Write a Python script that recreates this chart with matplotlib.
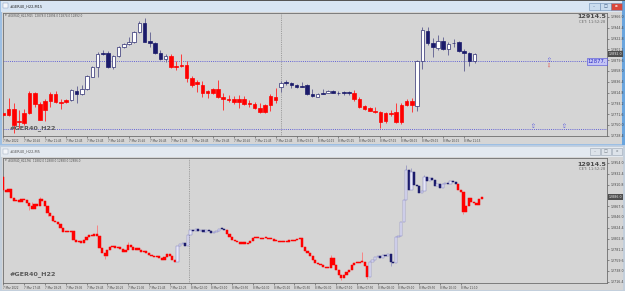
import numpy as np
import matplotlib.pyplot as plt
from matplotlib.patches import Rectangle

# ---------------- top window: #GER40_H22,M15 ----------------
top_open = [12774, 12770, 12782, 12756, 12754, 12774, 12814, 12792, 12780, 12798,
            12812, 12796, 12796, 12800, 12818, 12812, 12822, 12846, 12866, 12894,
            12894, 12866, 12888, 12906, 12912, 12916, 12936, 12954, 12918, 12914,
            12894, 12882, 12888, 12868, 12868, 12870, 12844, 12832, 12830, 12814,
            12822, 12822, 12806, 12802, 12796, 12802, 12802, 12792, 12792, 12784,
            12776, 12790, 12806, 12826, 12836, 12834, 12830, 12828, 12830, 12812,
            12807, 12814, 12815, 12819, 12815, 12816, 12816, 12814, 12802, 12788,
            12785, 12778, 12776, 12758, 12774, 12776, 12756, 12790, 12798, 12788,
            12878, 12938, 12914, 12904, 12918, 12902, 12914, 12916, 12898, 12894,
            12878]
top_high = [12776, 12804, 12794, 12780, 12782, 12818, 12816, 12796, 12802, 12816,
            12818, 12802, 12802, 12822, 12828, 12830, 12850, 12868, 12896, 12900,
            12898, 12890, 12908, 12914, 12926, 12938, 12958, 12964, 12936, 12916,
            12900, 12892, 12892, 12878, 12892, 12878, 12848, 12840, 12838, 12820,
            12824, 12840, 12814, 12810, 12808, 12810, 12808, 12800, 12796, 12794,
            12792, 12812, 12824, 12838, 12840, 12836, 12832, 12836, 12832, 12822,
            12814, 12822, 12820, 12820, 12818, 12818, 12818, 12820, 12806, 12790,
            12786, 12786, 12778, 12776, 12780, 12794, 12794, 12802, 12804, 12880,
            12946, 12946, 12924, 12930, 12926, 12916, 12922, 12918, 12902, 12896,
            12894]
top_low = [12768, 12768, 12734, 12744, 12750, 12772, 12786, 12760, 12758, 12786,
           12794, 12782, 12794, 12798, 12794, 12810, 12820, 12846, 12846, 12890,
           12864, 12862, 12886, 12904, 12910, 12914, 12934, 12916, 12906, 12892,
           12880, 12876, 12864, 12860, 12866, 12836, 12826, 12816, 12806, 12804,
           12812, 12804, 12780, 12796, 12792, 12784, 12790, 12786, 12782, 12774,
           12774, 12778, 12794, 12816, 12830, 12824, 12824, 12826, 12810, 12806,
           12806, 12812, 12814, 12814, 12810, 12810, 12810, 12798, 12784, 12780,
           12778, 12774, 12744, 12754, 12768, 12754, 12752, 12788, 12776, 12778,
           12862, 12910, 12886, 12900, 12900, 12890, 12906, 12896, 12858, 12868,
           12874]
top_close = [12770, 12782, 12750, 12758, 12774, 12814, 12792, 12760, 12798, 12812,
             12796, 12794, 12800, 12820, 12812, 12822, 12848, 12866, 12892, 12892,
             12866, 12888, 12906, 12912, 12916, 12936, 12954, 12916, 12914, 12894,
             12882, 12888, 12866, 12866, 12870, 12844, 12830, 12836, 12814, 12818,
             12814, 12806, 12802, 12800, 12802, 12796, 12792, 12794, 12784, 12776,
             12790, 12808, 12800, 12834, 12834, 12830, 12826, 12827, 12812, 12808,
             12813, 12813, 12819, 12815, 12814, 12815, 12815, 12802, 12786, 12782,
             12779, 12776, 12756, 12774, 12772, 12756, 12790, 12798, 12790, 12878,
             12940, 12914, 12906, 12918, 12902, 12912, 12915, 12898, 12894, 12878,
             12892]
top_red_spans = [(0, 12), (32, 52), (67, 78)]
top_yticks = [12966.0, 12944.4, 12922.8, 12901.2, 12879.6, 12858.0,
              12836.4, 12814.8, 12793.2, 12771.6, 12750.0, 12728.4]
top_xtick_bars = [0, 4, 8, 12, 16, 20, 24, 28, 32, 36, 40, 44,
                  48, 52, 56, 60, 64, 68, 72, 76, 80, 84, 88]
top_xtick_labels = ["7 Mar 2022", "7 Mar 10:45", "7 Mar 11:45", "7 Mar 12:45",
                    "7 Mar 13:45", "7 Mar 14:45", "7 Mar 15:45", "7 Mar 16:45",
                    "7 Mar 17:45", "7 Mar 18:45", "7 Mar 19:45", "7 Mar 20:45",
                    "7 Mar 21:45", "7 Mar 22:45", "8 Mar 03:15", "8 Mar 04:15",
                    "8 Mar 05:15", "8 Mar 06:15", "8 Mar 07:15", "8 Mar 08:15",
                    "8 Mar 09:15", "8 Mar 10:15", "8 Mar 11:15"]
top_day_sep = 53
top_hlines = [12877.5, 12742.0]
top_arrows_up = [(104, 12880), (101, 12748), (107, 12748)]
top_arrows_down = [(104, 12869)]

# ---------------- bottom window: #GER40_H22,M5 ----------------
bot_first_open = 12926
bot_close = [12900, 12896, 12902, 12884, 12878, 12880, 12876, 12882, 12880, 12874,
             12868, 12862, 12872, 12868, 12882, 12878, 12868, 12854, 12848, 12838,
             12836, 12832, 12824, 12816, 12818, 12816, 12818, 12800, 12796, 12798,
             12794, 12800, 12806, 12810, 12808, 12812, 12808, 12784, 12774, 12768,
             12780, 12786, 12788, 12784, 12786, 12782, 12776, 12780, 12790, 12786,
             12780, 12784, 12780, 12776, 12778, 12774, 12770, 12768, 12766, 12768,
             12764, 12760, 12766, 12772, 12768, 12760, 12756, 12788, 12792, 12794,
             12788, 12810, 12820, 12818, 12822, 12818, 12820, 12816, 12820, 12818,
             12814, 12816, 12818, 12822, 12822, 12820, 12812, 12806, 12800, 12798,
             12796, 12792, 12796, 12792, 12794, 12798, 12804, 12806, 12804, 12802,
             12804, 12804, 12802, 12802, 12798, 12798, 12796, 12798, 12796, 12796,
             12800, 12798, 12800, 12802, 12804, 12786, 12778, 12774, 12768, 12760,
             12754, 12752, 12750, 12746, 12744, 12744, 12764, 12750, 12740, 12730,
             12724, 12730, 12736, 12740, 12750, 12754, 12754, 12756, 12756, 12748,
             12726, 12756, 12760, 12766, 12768, 12764, 12770, 12768, 12772, 12756,
             12754, 12806, 12808, 12836, 12880, 12940, 12900, 12936, 12910, 12908,
             12894, 12898, 12926, 12918, 12924, 12920, 12908, 12912, 12904, 12912,
             12914, 12912, 12918, 12916, 12912, 12900, 12896, 12856, 12868, 12884,
             12876, 12874, 12870, 12882, 12886]
bot_spike_high = {0: 12928, 3: 12896, 11: 12876, 14: 12886, 36: 12830, 48: 12796,
                  126: 12770, 138: 12776, 155: 12950, 157: 12944, 162: 12930}
bot_spike_low = {10: 12860, 17: 12848, 39: 12762, 130: 12720, 140: 12722,
                 149: 12748, 177: 12852}
bot_red_spans = [(0, 66), (86, 140), (175, 184)]
bot_yticks = [12954.0, 12932.4, 12910.8, 12867.6, 12846.0,
              12824.4, 12802.8, 12781.2, 12759.6, 12738.0, 12716.4]
bot_xtick_bars = [0, 8, 16, 24, 32, 40, 48, 56, 64, 72, 80, 88,
                  96, 104, 112, 120, 128, 136, 144, 152, 160, 168, 176]
bot_xtick_labels = ["7 Mar 2022", "7 Mar 17:45", "7 Mar 18:25", "7 Mar 19:05",
                    "7 Mar 19:45", "7 Mar 20:25", "7 Mar 21:05", "7 Mar 21:45",
                    "7 Mar 22:25", "8 Mar 02:30", "8 Mar 03:10", "8 Mar 03:50",
                    "8 Mar 04:30", "8 Mar 05:10", "8 Mar 05:50", "8 Mar 06:30",
                    "8 Mar 07:10", "8 Mar 07:50", "8 Mar 08:30", "8 Mar 09:10",
                    "8 Mar 09:50", "8 Mar 10:30", "8 Mar 11:10"]
bot_day_sep = 71.5

PRICE_TEXT = "12914.5"
CLOCK_TEXT = "CET: 11:52:28"

RED = "#ff0000"
NAVY = "#1b1b6b"
GREY_BG = "#d5d5d5"

W, H = 625, 291
fig = plt.figure(figsize=(W / 100, H / 100), dpi=100)
fig.patch.set_facecolor("#b8cce4")

# background axes in pixel coordinates for the window chrome
bg = fig.add_axes([0, 0, 1, 1])
bg.set_xlim(0, W)
bg.set_ylim(H, 0)
bg.axis("off")


def rect(x0, y0, x1, y1, fc, ec="none", lw=0.0, z=0):
    bg.add_patch(Rectangle((x0, y0), x1 - x0, y1 - y0, facecolor=fc,
                           edgecolor=ec, linewidth=lw, zorder=z))


# top window (active)
rect(0, 0, 625, 144.5, "#9dbfe3")
rect(0, 0, 625, 1, "#555555", z=1)
rect(1, 1, 622, 12, "#d8e5f3", z=1)
rect(2, 12, 622, 143.5, GREY_BG, z=1)
rect(622, 1, 625, 144.5, "#6aa5de", z=1)
# bottom window (inactive)
rect(0, 145.5, 625, 291, "#c3cfdc")
rect(1, 146.5, 623, 157, "#e3e9f0", z=1)
rect(2, 157, 623, 289.5, GREY_BG, z=1)

# title bar buttons
for x0, fc in [(589, "#c9dcef"), (600, "#c9dcef"), (611, "#d9473c")]:
    rect(x0, 2.5, x0 + 10.5, 9.5, fc, ec="#6d8fb5", lw=0.4, z=2)
for x0 in [590, 601, 612]:
    rect(x0, 148, x0 + 10, 155, "#dde3ea", ec="#9aa5b3", lw=0.4, z=2)
bg.text(616.2, 6.2, "x", color="white", fontsize=3.2, ha="center", va="center",
        fontweight="bold", zorder=3)
bg.text(594.2, 6.0, "–", color="#34507a", fontsize=3, ha="center", va="center", zorder=3)
bg.text(605.2, 6.0, "□", color="#34507a", fontsize=3, ha="center", va="center", zorder=3)
bg.text(595, 151.5, "–", color="#707880", fontsize=3, ha="center", va="center", zorder=3)
bg.text(606, 151.5, "□", color="#707880", fontsize=3, ha="center", va="center", zorder=3)
bg.text(617, 151.5, "x", color="#707880", fontsize=3, ha="center", va="center", zorder=3)

# window icons and titles
rect(3, 3, 7.5, 8, "#f4f6fa", ec="#7c93b5", lw=0.3, z=2)
rect(3, 149, 7.5, 154, "#f4f6fa", ec="#98a6b8", lw=0.3, z=2)
bg.text(10, 6, "#GER40_H22,M15", color="#222222", fontsize=2.6, va="center", zorder=3)
bg.text(10, 151.8, "#GER40_H22,M5", color="#555555", fontsize=2.6, va="center", zorder=3)


def draw_candles(ax, o, h, l, c, red_spans, width, lw_wick, lw_edge,
                 bull_face, bull_edge, min_body):
    o = np.asarray(o, float)
    c = np.asarray(c, float)
    x = np.arange(len(o))
    red = np.zeros(len(o), bool)
    for a, b in red_spans:
        red[a:b + 1] = True
    bull = c > o
    face = np.where(red, RED, np.where(bull, bull_face, NAVY))
    edge = np.where(red, RED, np.where(bull, bull_edge, NAVY))
    wick = np.where(red, "#ff3a3a", "#6c6c98")
    if h is not None:
        ax.vlines(x, l, h, colors=wick, lw=lw_wick, zorder=2)
    bottom = np.minimum(o, c)
    height = np.maximum(np.abs(c - o), min_body)
    ax.bar(x, height, width, bottom, color=face, edgecolor=edge,
           linewidth=lw_edge, zorder=3)
    return red


def setup_chart(ax, ylim, xlim, yticks, xbars, xlabels):
    ax.set_facecolor(GREY_BG)
    ax.set_xlim(*xlim)
    ax.set_ylim(*ylim)
    for s in ax.spines.values():
        s.set_color("#6e6e6e")
        s.set_linewidth(0.6)
    ax.yaxis.tick_right()
    ax.set_yticks(yticks)
    ax.set_yticklabels([f"{v:.1f}" for v in yticks])
    ax.set_xticks(xbars)
    ax.set_xticklabels(xlabels)
    for lab in ax.get_xticklabels():
        lab.set_ha("left")
    ax.tick_params(axis="y", length=1.6, width=0.4, pad=1.2, labelsize=2.3,
                   colors="#444444", direction="out")
    ax.tick_params(axis="x", length=1.6, width=0.4, pad=0.6, labelsize=2.0,
                   colors="#444444", direction="out")


# ---------------- top chart ----------------
ax1 = fig.add_axes([3 / W, (H - 136) / H, 604 / W, 123 / H])
setup_chart(ax1, (12728, 12974), (-0.06, 115.27), top_yticks,
            top_xtick_bars, top_xtick_labels)
ax1.axvline(top_day_sep, color="#8a8a8a", ls=(0, (1, 1.2)), lw=0.6, zorder=1)
for p in top_hlines:
    ax1.axhline(p, color="#6262d6", ls=(0, (1, 1.2)), lw=0.7, zorder=1)
draw_candles(ax1, top_open, top_high, top_low, top_close, top_red_spans,
             0.68, 0.7, 0.5, "white", "#2c2c70", 1.0)
for xb, p in top_arrows_up:
    ax1.text(xb, p, "⇧", color="#4a4ae0", fontsize=4.2, ha="center",
             va="center", zorder=4)
for xb, p in top_arrows_down:
    ax1.text(xb, p, "⇩", color="#e04040", fontsize=3.6, ha="center",
             va="center", zorder=4)
ax1.annotate("12877.", xy=(1.0, top_hlines[0]), xycoords=("axes fraction", "data"),
             xytext=(-0.8, 0), textcoords="offset points", ha="right", va="center",
             fontsize=3.8, color="#2a2ac8", zorder=5,
             bbox=dict(boxstyle="square,pad=0.15", fc="#c4c4f4", ec="#4a4ad8", lw=0.4))
ax1.annotate(f"{top_close[-1]:.1f}", xy=(1.0, top_close[-1]),
             xycoords=("axes fraction", "data"), xytext=(1.2, 0),
             textcoords="offset points", ha="left", va="center", fontsize=2.3,
             color="#f0f0f0", zorder=5, annotation_clip=False,
             bbox=dict(boxstyle="square,pad=0.2", fc="#4e4e4e", ec="none"))

# ---------------- bottom chart ----------------
bot_open = [bot_first_open] + bot_close[:-1]
ax2 = fig.add_axes([3 / W, (H - 283) / H, 604 / W, 125 / H])
setup_chart(ax2, (12714, 12964), (-0.12, 232.2), bot_yticks,
            bot_xtick_bars, bot_xtick_labels)
ax2.axvline(bot_day_sep, color="#8a8a8a", ls=(0, (1, 1.2)), lw=0.6, zorder=1)
red2 = draw_candles(ax2, bot_open, None, None, bot_close, bot_red_spans,
                    0.78, 0.5, 0.35, "#e6e6f6", "#8080c4", 2.6)
for i, hp in bot_spike_high.items():
    top_body = max(bot_open[i], bot_close[i])
    ax2.vlines(i, top_body, hp, colors="#ff7070" if red2[i] else "#9090c0",
               lw=0.55, zorder=2)
for i, lp in bot_spike_low.items():
    low_body = min(bot_open[i], bot_close[i])
    ax2.vlines(i, lp, low_body, colors="#ff7070" if red2[i] else "#9090c0",
               lw=0.55, zorder=2)
ax2.annotate(f"{bot_close[-1]:.1f}", xy=(1.0, bot_close[-1]),
             xycoords=("axes fraction", "data"), xytext=(1.2, 0),
             textcoords="offset points", ha="left", va="center", fontsize=2.3,
             color="#f0f0f0", zorder=5, annotation_clip=False,
             bbox=dict(boxstyle="square,pad=0.2", fc="#4e4e4e", ec="none"))

# ---------------- overlay texts (drawn above the charts) ----------------
ov = fig.add_axes([0, 0, 1, 1])
ov.set_xlim(0, W)
ov.set_ylim(H, 0)
ov.axis("off")
ov.patch.set_alpha(0)

ov.text(5, 15, "▾", color="#555555", fontsize=2.4, va="center")
ov.text(8.5, 15, "#GER40_H22,M15  12878.0 12894.0 12874.0 12892.0",
        color="#555555", fontsize=2.0, va="center")
ov.text(5, 160.5, "▾", color="#555555", fontsize=2.4, va="center")
ov.text(8.5, 160.5, "#GER40_H22,M5  12882.0 12888.0 12880.0 12886.0",
        color="#555555", fontsize=2.0, va="center")
for yy in (128, 274):
    ov.text(10, yy, "#GER40_H22", color="#5a5a5a", fontsize=4.6,
            fontweight="bold", va="center")
for yp, yc in ((17, 22), (164, 169)):
    ov.text(606, yp, PRICE_TEXT, color="#4a4a4a", fontsize=4.6,
            fontweight="bold", ha="right", va="center")
    ov.text(605, yc, CLOCK_TEXT, color="#6a6a6a", fontsize=2.7,
            ha="right", va="center")

fig.savefig("out.png", dpi=100)
